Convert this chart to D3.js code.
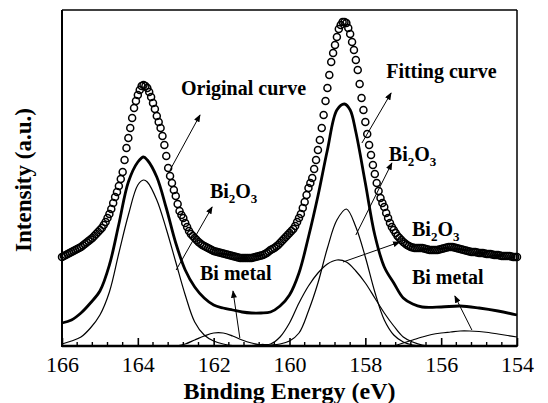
<!DOCTYPE html>
<html lang="en">
<head>
    <meta charset="UTF-8">
    <title>Bi 4f XPS spectrum</title>
    <style>
        body {
            margin: 0;
            padding: 0;
            background: #fff;
        }
        svg {
            display: block;
        }
        .tick text {
            font-family: 'Liberation Serif', 'Times New Roman', serif;
            font-size: 22px;
            fill: #000;
        }
        .label {
            font-family: 'Liberation Serif', 'Times New Roman', serif;
            font-weight: bold;
            font-size: 20px;
            fill: #000;
        }
        .title {
            font-family: 'Liberation Serif', 'Times New Roman', serif;
            font-weight: bold;
            fill: #000;
        }
    </style>
</head>
<body>
    <script src="https://d3js.org/d3.v7.min.js"></script>
    <script>
        const width = 548;
        const height = 403;
        const margin = {top: 10, right: 31, bottom: 57, left: 62};

        // x axis ticks (binding energy, eV)
        const majorTicks = [166, 164, 162, 160, 158, 156, 154];

        // original curve: measured points, 166 eV down to 154 eV every 0.05 eV
        const origStart = 166;
        const origStep = 0.05;
        const originalCounts = [
            89, 90, 91, 92, 93, 94, 95, 96, 97, 98,                      // 166.00
            99, 100.5, 102, 103.5, 105, 106.5, 108, 110, 112, 114,       // 165.50
            116, 118, 121, 124, 128, 132, 137, 143, 149, 154,            // 165.00
            160, 167, 174, 186, 198, 208, 218, 228, 238, 245,            // 164.50
            251, 256, 260, 261, 260, 258, 254, 249, 243, 237,            // 164.00
            230, 224, 218, 210, 201, 190, 178, 170, 163, 156,            // 163.50
            150, 142, 135, 131, 128, 123, 119, 115, 112, 110,            // 163.00
            108, 106, 104, 102.5, 101, 100, 99, 98, 97, 96,              // 162.50
            95, 94.5, 94, 93.5, 93, 92.5, 92, 91.5, 91, 90.5,            // 162.00
            90, 89.5, 89, 88.5, 88, 88, 88, 88, 88, 88,                  // 161.50
            88, 88.5, 89, 89.5, 90, 90.5, 91, 92, 93, 94.5,              // 161.00
            96, 97, 98, 99.5, 101, 103, 105, 107, 109, 111,              // 160.50
            113, 115, 117, 120, 124, 128, 132, 138, 144, 151,            // 160.00
            158, 163, 168, 177, 186, 196, 206, 218, 231, 245,            // 159.50
            258, 271, 284, 293, 301, 309, 317, 321, 324, 324,            // 159.00
            323, 318, 312, 304, 296, 286, 276, 262, 248, 236,            // 158.50
            224, 212, 201, 191, 181, 172, 163, 155, 148, 143,            // 158.00
            139, 133, 128, 123, 119, 116, 113, 110, 108, 106,            // 157.50
            104, 102.5, 101, 100, 99, 98.5, 98, 98, 98, 98,              // 157.00
            98, 97.5, 97, 96.5, 96, 96, 96, 96, 96, 96.5,                // 156.50
            97, 97.5, 98, 98.5, 99, 99, 99, 98.5, 98, 97.5,              // 156.00
            97, 96.5, 96, 95.5, 95, 94.5, 94, 94, 94, 93.5,              // 155.50
            93, 93, 93, 92.5, 92, 92, 92, 91.5, 91, 91,                  // 155.00
            91, 90.5, 90, 90, 90, 90, 90, 89.5, 89, 89,                  // 154.50
            89                                                           // 154.00
        ];

        // fitting curve (sum of components + background)
        const fitEnergy = [166, 165.75, 165.5, 165.25, 165, 164.75, 164.5, 164.25, 164, 163.85,
            163.75, 163.5, 163.25, 163, 162.75, 162.5, 162.25, 162, 161.75, 161.5,
            161.25, 161, 160.75, 160.5, 160.25, 160, 159.75, 159.5, 159.25, 159,
            158.75, 158.55, 158.4, 158.25, 158, 157.75, 157.5, 157.25, 157, 156.75,
            156.5, 156, 155.5, 155, 154.5, 154];
        const fitCounts = [23, 26, 33, 43, 55, 81, 122, 164, 184, 189,
            186, 169, 138, 103, 76, 59, 48, 41, 38, 36,
            34, 33, 33, 34, 40, 51, 73, 109, 150, 196,
            236, 242, 236, 214, 163, 111, 79, 63, 48, 42,
            39, 39, 40, 38, 35, 31];

        // Bi2O3 component at 163.9 eV
        const oxideAEnergy = [166, 165.75, 165.5, 165.25, 165, 164.75, 164.5, 164.25, 164, 163.85,
            163.75, 163.5, 163.25, 163, 162.75, 162.5, 162.25, 162, 161.75, 161.5, 161];
        const oxideACounts = [2, 5, 9, 18, 31, 54, 93, 131, 161, 166,
            164, 146, 117, 84, 51, 24, 11, 5, 2, 0.5, 0];

        // Bi2O3 component at 158.5 eV (narrow)
        const oxideBEnergy = [161, 160.5, 160.25, 160, 159.75, 159.5, 159.25, 159, 158.75, 158.5,
            158.25, 158, 157.75, 157.5, 157.25, 157, 156.75, 156.5];
        const oxideBCounts = [0, 1, 2, 5, 13, 35, 63, 98, 126, 137,
            119, 89, 54, 26, 11, 4, 1, 0];

        // Bi2O3 component at 158.75 eV (broad)
        const oxideCEnergy = [161.5, 161, 160.75, 160.5, 160.25, 160, 159.75, 159.5, 159.25, 159,
            158.75, 158.5, 158.25, 158, 157.75, 157.5, 157.25, 157, 156.75, 156.5, 156];
        const oxideCCounts = [0, 0.5, 1.5, 2, 9, 23, 43, 60, 73, 82,
            86, 84, 75, 63, 48, 33, 20, 9, 4, 1, 0];

        // Bi metal components
        const metalAEnergy = [163, 162.75, 162.5, 162.25, 162, 161.75, 161.5, 161.25, 161, 160.75, 160.5];
        const metalACounts = [0, 2, 6, 10, 13, 13, 10, 6, 3, 1, 0];
        const metalBEnergy = [157.25, 157, 156.75, 156.5, 156.25, 156, 155.75, 155.5, 155.25, 155,
            154.75, 154.5, 154.25, 154];
        const metalBCounts = [0, 3, 6, 9, 11.5, 13, 14, 15, 15, 14.5,
            13.5, 12, 10.5, 9];

        // annotations: label anchor and arrow (from curve -> to label), in eV / counts
        const labels = [
            {text: 'Original curve', e: 162.86, v: 251},
            {text: 'Fitting curve', e: 157.45, v: 268},
            {text: 'Bi2O3', e: 157.38, v: 185},
            {text: 'Bi2O3', e: 162.10, v: 148},
            {text: 'Bi metal', e: 162.36, v: 66},
            {text: 'Bi2O3', e: 156.77, v: 110},
            {text: 'Bi metal', e: 156.77, v: 62}
        ];
        const arrows = [
            {e1: 163.15, v1: 176, e2: 162.36, v2: 231},
            {e1: 158.09, v1: 203, e2: 157.32, v2: 253},
            {e1: 158.25, v1: 111, e2: 157.30, v2: 183},
            {e1: 162.99, v1: 76, e2: 162.04, v2: 139},
            {e1: 161.31, v1: 8, e2: 161.49, v2: 55},
            {e1: 158.59, v1: 84, e2: 157.09, v2: 104},
            {e1: 155.19, v1: 16, e2: 155.64, v2: 50}
        ];

        const serif = "'Liberation Serif', 'Times New Roman', serif";

        const svg = d3.select('body').append('svg')
            .attr('width', width)
            .attr('height', height);

        const x = d3.scaleLinear()
            .domain([166, 154])
            .range([margin.left, width - margin.right]);
        const y = d3.scaleLinear()
            .domain([0, 336])
            .range([height - margin.bottom, margin.top]);

        svg.append('defs').append('clipPath')
            .attr('id', 'plot-clip')
            .append('rect')
            .attr('x', x(166) - 6)
            .attr('y', y(336))
            .attr('width', x(154) - x(166) + 12)
            .attr('height', y(0) - y(336) + 1);

        svg.select('defs').append('marker')
            .attr('id', 'arrowhead')
            .attr('viewBox', '0 -4 10 8')
            .attr('refX', 9)
            .attr('refY', 0)
            .attr('orient', 'auto')
            .attr('markerUnits', 'userSpaceOnUse')
            .attr('markerWidth', 8)
            .attr('markerHeight', 6)
            .append('path')
            .attr('d', 'M0,-4L10,0L0,4Z')
            .attr('fill', '#000');

        const plot = svg.append('g').attr('clip-path', 'url(#plot-clip)');

        const line = d3.line()
            .x(d => x(d[0]))
            .y(d => y(d[1]))
            .curve(d3.curveCatmullRom.alpha(0.5));

        const zip = (es, vs) => es.map((e, i) => [e, vs[i]]);

        // thin component curves
        [[oxideAEnergy, oxideACounts], [oxideBEnergy, oxideBCounts], [oxideCEnergy, oxideCCounts],
         [metalAEnergy, metalACounts], [metalBEnergy, metalBCounts]].forEach(([es, vs]) => {
            plot.append('path')
                .datum(zip(es, vs))
                .attr('d', line)
                .attr('fill', 'none')
                .attr('stroke', '#000')
                .attr('stroke-width', 1.2);
        });

        // fitting curve (thick)
        plot.append('path')
            .datum(zip(fitEnergy, fitCounts))
            .attr('d', line)
            .attr('fill', 'none')
            .attr('stroke', '#000')
            .attr('stroke-width', 2.8);

        // original curve: open circles
        const originalData = originalCounts.map((v, i) => [+(origStart - i * origStep).toFixed(2), v]);
        svg.append('g')
            .selectAll('circle')
            .data(originalData)
            .enter().append('circle')
            .attr('cx', d => x(d[0]))
            .attr('cy', d => y(d[1]))
            .attr('r', 3.5)
            .attr('fill', 'none')
            .attr('stroke', '#000')
            .attr('stroke-width', 1.5);

        // arrows
        svg.append('g')
            .selectAll('line')
            .data(arrows)
            .enter().append('line')
            .attr('x1', d => x(d.e1))
            .attr('y1', d => y(d.v1))
            .attr('x2', d => x(d.e2))
            .attr('y2', d => y(d.v2))
            .attr('stroke', '#000')
            .attr('stroke-width', 1)
            .attr('marker-end', 'url(#arrowhead)');

        // labels
        labels.forEach(d => {
            const t = svg.append('text')
                .attr('class', 'label')
                .attr('font-family', serif)
                .attr('x', x(d.e))
                .attr('y', y(d.v));
            if (d.text === 'Bi2O3') {
                t.append('tspan').text('Bi');
                t.append('tspan').attr('dy', 5).style('font-size', '13px').text('2');
                t.append('tspan').attr('dy', -5).text('O');
                t.append('tspan').attr('dy', 5).style('font-size', '13px').text('3');
            } else {
                t.text(d.text);
            }
        });

        // x axis
        const xAxis = d3.axisBottom(x)
            .tickValues(majorTicks)
            .tickFormat(d3.format('d'))
            .tickSizeInner(-8)
            .tickSizeOuter(0)
            .tickPadding(10);
        const gx = svg.append('g')
            .attr('transform', `translate(0,${y(0)})`)
            .call(xAxis)
            .attr('font-family', serif)
            .attr('font-size', 22);
        gx.select('.domain').remove();
        gx.selectAll('.tick line').attr('stroke-width', 1.6);
        gx.selectAll('.tick text').attr('font-family', serif);

        const minorTicks = d3.range(166, 153.9, -0.4).map(d => +d.toFixed(1))
            .filter(d => !majorTicks.includes(Math.round(d * 10) / 10));
        svg.append('g')
            .selectAll('line')
            .data(minorTicks)
            .enter().append('line')
            .attr('x1', d => x(d))
            .attr('x2', d => x(d))
            .attr('y1', y(0))
            .attr('y2', y(0) - 4)
            .attr('stroke', '#000')
            .attr('stroke-width', 1.4);

        // frame
        const frame = svg.append('g').attr('stroke', '#000').attr('fill', 'none');
        frame.append('line')
            .attr('x1', x(166)).attr('x2', x(154))
            .attr('y1', y(0)).attr('y2', y(0))
            .attr('stroke-width', 2.5);
        frame.append('line')
            .attr('x1', x(166)).attr('x2', x(166))
            .attr('y1', y(0) + 1).attr('y2', y(336))
            .attr('stroke-width', 2);
        frame.append('line')
            .attr('x1', x(154)).attr('x2', x(154))
            .attr('y1', y(0) + 1).attr('y2', y(336))
            .attr('stroke-width', 1.5);
        frame.append('line')
            .attr('x1', x(166)).attr('x2', x(154))
            .attr('y1', y(336)).attr('y2', y(336))
            .attr('stroke-width', 1.5);

        // axis titles
        svg.append('text')
            .attr('class', 'title')
            .attr('font-family', serif)
            .attr('x', (x(166) + x(154)) / 2)
            .attr('y', 399)
            .attr('text-anchor', 'middle')
            .style('font-size', '24px')
            .text('Binding Energy (eV)');

        svg.append('text')
            .attr('class', 'title')
            .attr('font-family', serif)
            .attr('transform', `translate(31,${(y(0) + y(336)) / 2 + 2}) rotate(-90)`)
            .attr('text-anchor', 'middle')
            .style('font-size', '23px')
            .text('Intensity (a.u.)');
    </script>
</body>
</html>
